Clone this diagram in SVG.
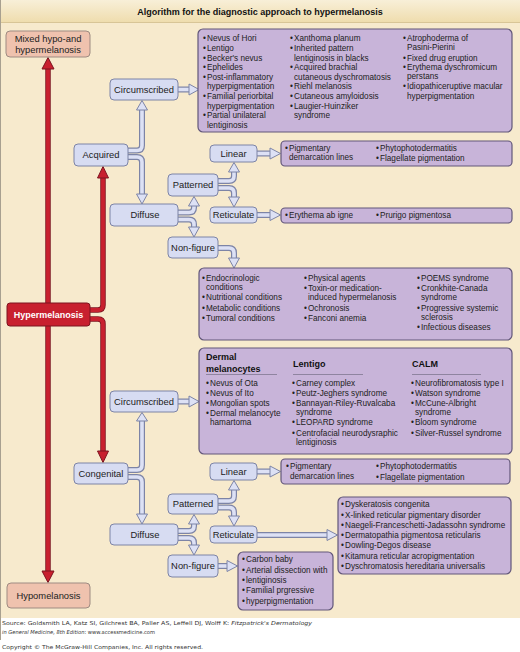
<svg xmlns="http://www.w3.org/2000/svg" width="520" height="652" viewBox="0 0 520 652">
<style>
.nb{fill:#d7dcf2;stroke:#7d84a6;stroke-width:1}
.pb{fill:#c8b4d9;stroke:#62577a;stroke-width:1.2}
.sb{fill:#efc2ae;stroke:#9e8b82;stroke-width:1}
.rb{fill:#c8202f;stroke:#7d1420;stroke-width:1}
.nt{font-family:"Liberation Sans",Arial,sans-serif;font-size:9.4px;fill:#222;text-anchor:middle}
.wt{font-family:"Liberation Sans",Arial,sans-serif;font-size:9px;font-weight:bold;fill:#fff;text-anchor:middle}
.bt{font-family:"Liberation Sans",Arial,sans-serif;font-size:8.2px;fill:#222}
.hd{font-family:"Liberation Sans",Arial,sans-serif;font-size:9px;font-weight:bold;fill:#111}
.ttl{font-family:"Liberation Sans",Arial,sans-serif;font-size:9px;font-weight:bold;fill:#111;text-anchor:middle}
.ft{font-family:"DejaVu Sans",Verdana,sans-serif;font-size:5.4px;fill:#333}
.po{fill:none;stroke:#7d84a6;stroke-width:6}
.pi{fill:none;stroke:#dde1f5;stroke-width:3.6}
.ah{fill:#dde1f5;stroke:#7d84a6;stroke-width:1;stroke-linejoin:round}
.ro{fill:none;stroke:#7d1420;stroke-width:5.5}
.ri{fill:none;stroke:#c8202f;stroke-width:3.8}
.rh{fill:#c8202f;stroke:#7d1420;stroke-width:1;stroke-linejoin:round}
.ul{stroke:#8f84a0;stroke-width:1}
</style>
<defs>
<linearGradient id="tg" x1="0" y1="0" x2="0" y2="1">
<stop offset="0" stop-color="#f8efd8"/>
<stop offset="1" stop-color="#efddae"/>
</linearGradient>
<path id="p1" d="M177,89.5 H190"/>
<path id="p2" d="M127,150.5 H137 Q142,150.5 142,145.5 V109"/>
<path id="p3" d="M127,157 H137 Q142,157 142,162 V195"/>
<path id="p4" d="M177,212.5 H189 Q194,212.5 194,207.5 V205"/>
<path id="p5" d="M177,219.5 H189 Q194,219.5 194,224.5 V228"/>
<path id="p6" d="M217,181 H229 Q234,181 234,176 V171"/>
<path id="p7" d="M217,188 H229 Q234,188 234,193 V198"/>
<path id="p8" d="M256,153.5 H271"/>
<path id="p9" d="M256,215 H271"/>
<path id="p10" d="M217,248 H229 Q234,248 234,253 V259"/>
<path id="p11" d="M177,401.5 H190"/>
<path id="p12" d="M127,470 H137 Q142,470 142,465 V420"/>
<path id="p13" d="M127,477 H137 Q142,477 142,482 V515"/>
<path id="p14" d="M177,531 H189 Q194,531 194,526 V523"/>
<path id="p15" d="M177,538 H189 Q194,538 194,543 V546"/>
<path id="p16" d="M217,501 H229 Q234,501 234,496 V489"/>
<path id="p17" d="M217,507.5 H229 Q234,507.5 234,512.5 V517"/>
<path id="p18" d="M256,471.5 H271"/>
<path id="p19" d="M256,535 H328"/>
<path id="p20" d="M217,566 H228"/>
<path id="r1" d="M48,304 V68"/>
<path id="r2" d="M48,325 V572"/>
<path id="r3" d="M89,310 H98 Q103,310 103,305 V177"/>
<path id="r4" d="M89,319 H98 Q103,319 103,324 V452"/>
</defs>

<rect x="0" y="0" width="520" height="618" fill="#f7eacd"/>
<rect x="0" y="0" width="520" height="22" fill="url(#tg)"/>
<line x1="0" y1="22.5" x2="520" y2="22.5" stroke="#d8c597" stroke-width="1"/>
<line x1="0.5" y1="0" x2="0.5" y2="640" stroke="#a8a090" stroke-width="1"/>
<text class="ttl" x="260" y="15">Algorithm for the diagnostic approach to hypermelanosis</text>

<g id="connectors">
<g class="ro"><use href="#r1"/><use href="#r2"/><use href="#r3"/><use href="#r4"/></g>
<g class="ri"><use href="#r1"/><use href="#r2"/><use href="#r3"/><use href="#r4"/></g>
<g class="rh">
<polygon points="42,69 48,57.5 54,69"/>
<polygon points="42,571 48,582.5 54,571"/>
<polygon points="97.5,178 103,166.5 108.5,178"/>
<polygon points="97.5,451 103,462.5 108.5,451"/>
</g>
<g class="po"><use href="#p1"/><use href="#p2"/><use href="#p3"/><use href="#p4"/><use href="#p5"/><use href="#p6"/><use href="#p7"/><use href="#p8"/><use href="#p9"/><use href="#p10"/><use href="#p11"/><use href="#p12"/><use href="#p13"/><use href="#p14"/><use href="#p15"/><use href="#p16"/><use href="#p17"/><use href="#p18"/><use href="#p19"/><use href="#p20"/></g>
<g class="pi"><use href="#p1"/><use href="#p2"/><use href="#p3"/><use href="#p4"/><use href="#p5"/><use href="#p6"/><use href="#p7"/><use href="#p8"/><use href="#p9"/><use href="#p10"/><use href="#p11"/><use href="#p12"/><use href="#p13"/><use href="#p14"/><use href="#p15"/><use href="#p16"/><use href="#p17"/><use href="#p18"/><use href="#p19"/><use href="#p20"/></g>
<g class="ah">
<polygon points="189,84 199,89.5 189,95"/>
<polygon points="136.5,110 142,100.5 147.5,110"/>
<polygon points="136.5,194 142,204 147.5,194"/>
<polygon points="188.5,206 194,196.5 199.5,206"/>
<polygon points="188.5,227 194,237 199.5,227"/>
<polygon points="228.5,172 234,162.5 239.5,172"/>
<polygon points="228.5,197 234,207 239.5,197"/>
<polygon points="270,148 280.5,153.5 270,159"/>
<polygon points="270,209.5 280.5,215 270,220.5"/>
<polygon points="228.5,258 234,268 239.5,258"/>
<polygon points="189,396 199,401.5 189,407"/>
<polygon points="136.5,421 142,412.5 147.5,421"/>
<polygon points="136.5,514 142,524 147.5,514"/>
<polygon points="188.5,524 194,514.5 199.5,524"/>
<polygon points="188.5,545 194,555 199.5,545"/>
<polygon points="228.5,490 234,480.5 239.5,490"/>
<polygon points="228.5,516 234,526 239.5,516"/>
<polygon points="270,466 280.5,471.5 270,477"/>
<polygon points="327,529.5 337.5,535 327,540.5"/>
<polygon points="227,560.5 237.5,566 227,571.5"/>
</g>
</g>

<g id="mixed"><rect class="sb" x="6" y="31" width="84" height="26" rx="4"/>
<text class="nt" x="48" y="41.8">Mixed hypo-and</text><text class="nt" x="48" y="52.8">hypermelanosis</text></g>
<g id="hyper"><rect class="rb" x="7" y="303" width="83" height="23" rx="3"/>
<text class="wt" x="48.5" y="318">Hypermelanosis</text></g>
<g id="hypo"><rect class="sb" x="7" y="583" width="83" height="25" rx="4"/>
<text class="nt" x="48.5" y="599">Hypomelanosis</text></g>

<g id="acquired"><rect class="nb" x="74" y="144" width="54" height="22" rx="4"/><text class="nt" x="101" y="158.4">Acquired</text></g>
<g id="circ-acq"><rect class="nb" x="110" y="79" width="68" height="21" rx="4"/><text class="nt" x="144" y="93">Circumscribed</text></g>
<g id="diffuse-acq"><rect class="nb" x="110" y="204" width="68" height="22" rx="4"/><text class="nt" x="145" y="218.4">Diffuse</text></g>
<g id="patterned-acq"><rect class="nb" x="168" y="174" width="50" height="22" rx="4"/><text class="nt" x="193" y="188.4">Patterned</text></g>
<g id="nonfig-acq"><rect class="nb" x="168" y="237" width="50" height="21" rx="4"/><text class="nt" x="193" y="251">Non-figure</text></g>
<g id="linear-acq"><rect class="nb" x="210" y="145" width="47" height="17" rx="4"/><text class="nt" x="233.5" y="157">Linear</text></g>
<g id="reticulate-acq"><rect class="nb" x="210" y="207" width="47" height="16" rx="4"/><text class="nt" x="233.5" y="218.4">Reticulate</text></g>

<g id="congenital"><rect class="nb" x="74" y="463" width="54" height="21" rx="4"/><text class="nt" x="101" y="477">Congenital</text></g>
<g id="circ-cong"><rect class="nb" x="110" y="391" width="68" height="21" rx="4"/><text class="nt" x="144" y="405">Circumscribed</text></g>
<g id="diffuse-cong"><rect class="nb" x="110" y="524" width="68" height="21" rx="4"/><text class="nt" x="145" y="538">Diffuse</text></g>
<g id="patterned-cong"><rect class="nb" x="168" y="494" width="50" height="20" rx="4"/><text class="nt" x="193" y="507.4">Patterned</text></g>
<g id="nonfig-cong"><rect class="nb" x="168" y="555" width="50" height="22" rx="4"/><text class="nt" x="193" y="569.4">Non-figure</text></g>
<g id="linear-cong"><rect class="nb" x="210" y="463" width="47" height="17" rx="4"/><text class="nt" x="233.5" y="475">Linear</text></g>
<g id="reticulate-cong"><rect class="nb" x="210" y="526" width="47" height="17" rx="4"/><text class="nt" x="233.5" y="538">Reticulate</text></g>

<g id="box-circ-acq"><rect class="pb" x="198" y="29" width="314" height="103" rx="5"/>
<text class="bt" y="41.2"><tspan x="203">•</tspan><tspan x="207">Nevus of Hori</tspan></text>
<text class="bt" y="50.8"><tspan x="203">•</tspan><tspan x="207">Lentigo</tspan></text>
<text class="bt" y="60.5"><tspan x="203">•</tspan><tspan x="207">Becker's nevus</tspan></text>
<text class="bt" y="70.1"><tspan x="203">•</tspan><tspan x="207">Ephelides</tspan></text>
<text class="bt" y="79.7"><tspan x="203">•</tspan><tspan x="207">Post-inflammatory</tspan></text>
<text class="bt" x="207" y="89.4">hyperpigmentation</text>
<text class="bt" y="99"><tspan x="203">•</tspan><tspan x="207">Familial periorbital</tspan></text>
<text class="bt" x="207" y="108.6">hyperpigmentation</text>
<text class="bt" y="118.2"><tspan x="203">•</tspan><tspan x="207">Partial unilateral</tspan></text>
<text class="bt" x="207" y="127.9">lentiginosis</text>
<text class="bt" y="41.2"><tspan x="290">•</tspan><tspan x="294">Xanthoma planum</tspan></text>
<text class="bt" y="50.8"><tspan x="290">•</tspan><tspan x="294">Inherited pattern</tspan></text>
<text class="bt" x="294" y="60.5">lentiginosis in blacks</text>
<text class="bt" y="70.1"><tspan x="290">•</tspan><tspan x="294">Acquired brachial</tspan></text>
<text class="bt" x="294" y="79.7">cutaneous dyschromatosis</text>
<text class="bt" y="89.4"><tspan x="290">•</tspan><tspan x="294">Riehl melanosis</tspan></text>
<text class="bt" y="99"><tspan x="290">•</tspan><tspan x="294">Cutaneous amyloidosis</tspan></text>
<text class="bt" y="108.6"><tspan x="290">•</tspan><tspan x="294">Laugier-Huinziker</tspan></text>
<text class="bt" x="294" y="118.2">syndrome</text>
<text class="bt" y="41.2"><tspan x="403">•</tspan><tspan x="407">Atrophoderma of</tspan></text>
<text class="bt" x="407" y="50.2">Pasini-Pierini</text>
<text class="bt" y="60.5"><tspan x="403">•</tspan><tspan x="407">Fixed drug eruption</tspan></text>
<text class="bt" y="70.1"><tspan x="403">•</tspan><tspan x="407">Erythema dyschromicum</tspan></text>
<text class="bt" x="407" y="79.2">perstans</text>
<text class="bt" y="89.4"><tspan x="403">•</tspan><tspan x="407">Idiopathiceruptive macular</tspan></text>
<text class="bt" x="407" y="98.5">hyperpigmentation</text>
</g>

<g id="box-linear-acq"><rect class="pb" x="281" y="141" width="231" height="25" rx="4"/>
<text class="bt" y="150.5"><tspan x="285">•</tspan><tspan x="289">Pigmentary</tspan></text>
<text class="bt" x="289" y="160">demarcation lines</text>
<text class="bt" y="150.5"><tspan x="376">•</tspan><tspan x="380">Phytophotodermatitis</tspan></text>
<text class="bt" y="161"><tspan x="376">•</tspan><tspan x="380">Flagellate pigmentation</tspan></text>
</g>

<g id="box-reticulate-acq"><rect class="pb" x="281" y="208" width="231" height="15" rx="4"/>
<text class="bt" y="218.4"><tspan x="285">•</tspan><tspan x="289">Erythema ab igne</tspan></text>
<text class="bt" y="218.4"><tspan x="376">•</tspan><tspan x="380">Prurigo pigmentosa</tspan></text>
</g>

<g id="box-nonfig-acq"><rect class="pb" x="199" y="268" width="313" height="72" rx="5"/>
<text class="bt" y="281.2"><tspan x="202">•</tspan><tspan x="206">Endocrinologic</tspan></text>
<text class="bt" x="206" y="290">conditions</text>
<text class="bt" y="299.8"><tspan x="202">•</tspan><tspan x="206">Nutritional conditions</tspan></text>
<text class="bt" y="310.6"><tspan x="202">•</tspan><tspan x="206">Metabolic conditions</tspan></text>
<text class="bt" y="321"><tspan x="202">•</tspan><tspan x="206">Tumoral conditions</tspan></text>
<text class="bt" y="281.2"><tspan x="304">•</tspan><tspan x="308">Physical agents</tspan></text>
<text class="bt" y="290.5"><tspan x="304">•</tspan><tspan x="308">Toxin-or medication-</tspan></text>
<text class="bt" x="308" y="299.8">induced hypermelanosis</text>
<text class="bt" y="310.6"><tspan x="304">•</tspan><tspan x="308">Ochronosis</tspan></text>
<text class="bt" y="321"><tspan x="304">•</tspan><tspan x="308">Fanconi anemia</tspan></text>
<text class="bt" y="281.2"><tspan x="417">•</tspan><tspan x="421">POEMS syndrome</tspan></text>
<text class="bt" y="290.5"><tspan x="417">•</tspan><tspan x="421">Cronkhite-Canada</tspan></text>
<text class="bt" x="421" y="299.8">syndrome</text>
<text class="bt" y="310.6"><tspan x="417">•</tspan><tspan x="421">Progressive systemic</tspan></text>
<text class="bt" x="421" y="319.5">sclerosis</text>
<text class="bt" y="329.6"><tspan x="417">•</tspan><tspan x="421">Infectious diseases</tspan></text>
</g>

<g id="box-circ-cong"><rect class="pb" x="199" y="348" width="313" height="106" rx="5"/>
<text class="hd" x="206" y="360">Dermal</text>
<text class="hd" x="206" y="371.5">melanocytes</text>
<text class="hd" x="293" y="367">Lentigo</text>
<text class="hd" x="412" y="367">CALM</text>
<line class="ul" x1="206" y1="374.5" x2="277" y2="374.5"/>
<line class="ul" x1="293" y1="374.5" x2="363" y2="374.5"/>
<line class="ul" x1="412" y1="374.5" x2="481" y2="374.5"/>
<text class="bt" y="386.2"><tspan x="206">•</tspan><tspan x="210">Nevus of Ota</tspan></text>
<text class="bt" y="396"><tspan x="206">•</tspan><tspan x="210">Nevus of Ito</tspan></text>
<text class="bt" y="405.8"><tspan x="206">•</tspan><tspan x="210">Mongolian spots</tspan></text>
<text class="bt" y="415.6"><tspan x="206">•</tspan><tspan x="210">Dermal melanocyte</tspan></text>
<text class="bt" x="210" y="424.8">hamartoma</text>
<text class="bt" y="386.2"><tspan x="292">•</tspan><tspan x="296">Carney complex</tspan></text>
<text class="bt" y="396"><tspan x="292">•</tspan><tspan x="296">Peutz-Jeghers syndrome</tspan></text>
<text class="bt" y="405.8"><tspan x="292">•</tspan><tspan x="296">Bannayan-Riley-Ruvalcaba</tspan></text>
<text class="bt" x="296" y="414.8">syndrome</text>
<text class="bt" y="425.4"><tspan x="292">•</tspan><tspan x="296">LEOPARD syndrome</tspan></text>
<text class="bt" y="436.2"><tspan x="292">•</tspan><tspan x="296">Centrofacial neurodysraphic</tspan></text>
<text class="bt" x="296" y="445.2">lentiginosis</text>
<text class="bt" y="386.2"><tspan x="411">•</tspan><tspan x="415">Neurofibromatosis type I</tspan></text>
<text class="bt" y="396"><tspan x="411">•</tspan><tspan x="415">Watson syndrome</tspan></text>
<text class="bt" y="405.8"><tspan x="411">•</tspan><tspan x="415">McCune-Albright</tspan></text>
<text class="bt" x="415" y="414.8">syndrome</text>
<text class="bt" y="425.4"><tspan x="411">•</tspan><tspan x="415">Bloom syndrome</tspan></text>
<text class="bt" y="436"><tspan x="411">•</tspan><tspan x="415">Silver-Russel syndrome</tspan></text>
</g>

<g id="box-linear-cong"><rect class="pb" x="281" y="459" width="229" height="25" rx="4"/>
<text class="bt" y="469"><tspan x="286">•</tspan><tspan x="290">Pigmentary</tspan></text>
<text class="bt" x="290" y="478.5">demarcation lines</text>
<text class="bt" y="469"><tspan x="376">•</tspan><tspan x="380">Phytophotodermatitis</tspan></text>
<text class="bt" y="479.5"><tspan x="376">•</tspan><tspan x="380">Flagellate pigmentation</tspan></text>
</g>

<g id="box-reticulate-cong"><rect class="pb" x="338" y="497" width="173" height="77" rx="5"/>
<text class="bt" y="507.2"><tspan x="341">•</tspan><tspan x="345">Dyskeratosis congenita</tspan></text>
<text class="bt" y="517.5"><tspan x="341">•</tspan><tspan x="345">X-linked reticular pigmentary disorder</tspan></text>
<text class="bt" y="527.7"><tspan x="341">•</tspan><tspan x="345">Naegeli-Franceschetti-Jadassohn syndrome</tspan></text>
<text class="bt" y="538"><tspan x="341">•</tspan><tspan x="345">Dermatopathia pigmentosa reticularis</tspan></text>
<text class="bt" y="548.3"><tspan x="341">•</tspan><tspan x="345">Dowling-Degos disease</tspan></text>
<text class="bt" y="558.6"><tspan x="341">•</tspan><tspan x="345">Kitamura reticular acropigmentation</tspan></text>
<text class="bt" y="568.8"><tspan x="341">•</tspan><tspan x="345">Dyschromatosis hereditaria universalis</tspan></text>
</g>

<g id="box-nonfig-cong"><rect class="pb" x="238" y="552" width="95" height="58" rx="5"/>
<text class="bt" y="562.2"><tspan x="242">•</tspan><tspan x="246">Carbon baby</tspan></text>
<text class="bt" y="572.6"><tspan x="242">•</tspan><tspan x="246">Arterial dissection with</tspan></text>
<text class="bt" y="583"><tspan x="242">•</tspan><tspan x="246">lentiginosis</tspan></text>
<text class="bt" y="593.4"><tspan x="242">•</tspan><tspan x="246">Familial prgressive</tspan></text>
<text class="bt" y="603.8"><tspan x="242">•</tspan><tspan x="246">hyperpigmentation</tspan></text>
</g>

<g id="footer">
<text class="ft" x="2" y="624.8" textLength="310" lengthAdjust="spacingAndGlyphs">Source: Goldsmith LA, Katz SI, Gilchrest BA, Paller AS, Leffell DJ, Wolff K: <tspan font-style="italic">Fitzpatrick's Dermatology</tspan></text>
<text class="ft" x="2" y="633.6" textLength="153" lengthAdjust="spacingAndGlyphs"><tspan font-style="italic">in General Medicine, 8th Edition</tspan>: www.accessmedicine.com</text>
<text class="ft" x="2" y="649.3" textLength="201" lengthAdjust="spacingAndGlyphs">Copyright © The McGraw-Hill Companies, Inc. All rights reserved.</text>
</g>
</svg>
